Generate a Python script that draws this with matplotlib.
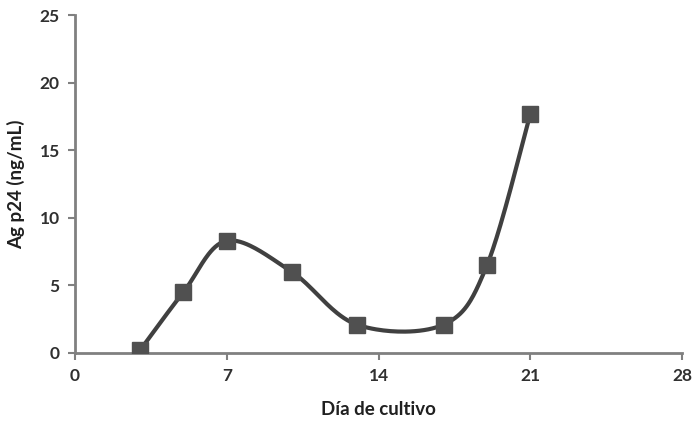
import numpy as np
import matplotlib.pyplot as plt

dias = [3, 5, 7, 10, 13, 17, 19, 21]
p24 = [0.2, 4.5, 8.3, 6.0, 2.1, 2.1, 6.5, 17.7]
xticks = [0, 7, 14, 21, 28]
yticks = [0, 5, 10, 15, 20, 25]

plt.rcParams['font.family'] = ['Lato', 'DejaVu Sans']
plt.rcParams['font.weight'] = 'bold'


def smooth(x, y, n=40):
    # curva tipo Excel: Bezier cubica con tangentes Catmull-Rom
    x = np.asarray(x, float)
    y = np.asarray(y, float)
    px = np.concatenate(([x[0]], x, [x[-1]]))
    py = np.concatenate(([y[0]], y, [y[-1]]))
    xs, ys = [], []
    t = np.linspace(0, 1, n)
    for i in range(1, len(px) - 2):
        p0 = np.array([px[i], py[i]])
        p3 = np.array([px[i+1], py[i+1]])
        c1 = p0 + (p3 - np.array([px[i-1], py[i-1]])) / 6
        c2 = p3 - (np.array([px[i+2], py[i+2]]) - p0) / 6
        b = ((1-t)**3)[:, None]*p0 + (3*(1-t)**2*t)[:, None]*c1 \
            + (3*(1-t)*t**2)[:, None]*c2 + (t**3)[:, None]*p3
        xs.append(b[:, 0])
        ys.append(b[:, 1])
    return np.concatenate(xs), np.concatenate(ys)


fig = plt.figure(figsize=(6.94, 4.23), dpi=100)
ax = fig.add_axes([0.108, 0.1655, 0.875, 0.799])

sx, sy = smooth(dias, p24)
ax.plot(sx, sy, color='#404040', lw=3, zorder=2)
ax.plot(dias, p24, 's', color='#505050', ms=11, zorder=3)

ax.set_xlim(0, 28)
ax.set_ylim(0, 25)
ax.set_xticks(xticks)
ax.set_yticks(yticks)
for s in ['top', 'right']:
    ax.spines[s].set_visible(False)
for s in ['left', 'bottom']:
    ax.spines[s].set_color('#808080')
    ax.spines[s].set_linewidth(2)
ax.tick_params(axis='both', colors='#808080', width=1.5, length=5,
               labelcolor='#303030', labelsize=12.5, pad=6)
ax.set_xlabel('Día de cultivo', fontsize=13.5, fontweight='bold', color='#202020')
ax.set_ylabel('Ag p24 (ng/mL)', fontsize=13.5, fontweight='bold', color='#202020')
ax.xaxis.labelpad = 12
ax.yaxis.labelpad = 10

fig.savefig('out.png', dpi=100)
